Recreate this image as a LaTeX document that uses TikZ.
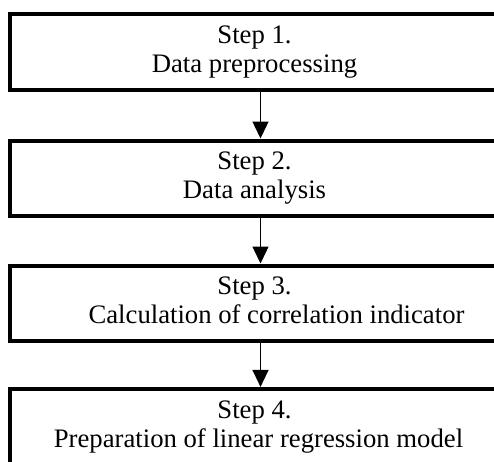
\documentclass[tikz,border=0pt]{standalone}
\usepackage{fontspec}
\setmainfont{Liberation Serif}
\usetikzlibrary{arrows.meta}
\begin{document}
\begin{tikzpicture}[x=1pt,y=-1pt,
  stepbox/.style={draw=black, line width=4pt, fill=white, inner sep=0pt,
    minimum width=489pt, minimum height=75.6pt, align=center,
    font=\fontsize{26.7}{29}\selectfont, text height=47pt, text depth=6pt},
  flow/.style={line width=1.3pt, -{Triangle[width=16pt,length=17pt]}}]
  \useasboundingbox (0,0) rectangle (494,461);
  \node[stepbox] (s1) at (254.5,52)    {Step 1.\\Data preprocessing};
  \node[stepbox] (s2) at (254.5,178.3) {Step 2.\\Data analysis};
  \node[stepbox] (s3) at (254.5,303.3) {Step 3.\\\hspace*{44pt}Calculation of correlation indicator};
  \node[stepbox] (s4) at (254.5,426.7) {Step 4.\\\hspace*{8pt}Preparation of linear regression model};
  % vertical line on which the arrows run
  \coordinate (ax) at (260.5,0);
  \draw[flow] (s1.south -| ax) -- (s2.north -| ax);
  \draw[flow] (s2.south -| ax) -- (s3.north -| ax);
  \draw[flow] (s3.south -| ax) -- (s4.north -| ax);
\end{tikzpicture}
\end{document}
